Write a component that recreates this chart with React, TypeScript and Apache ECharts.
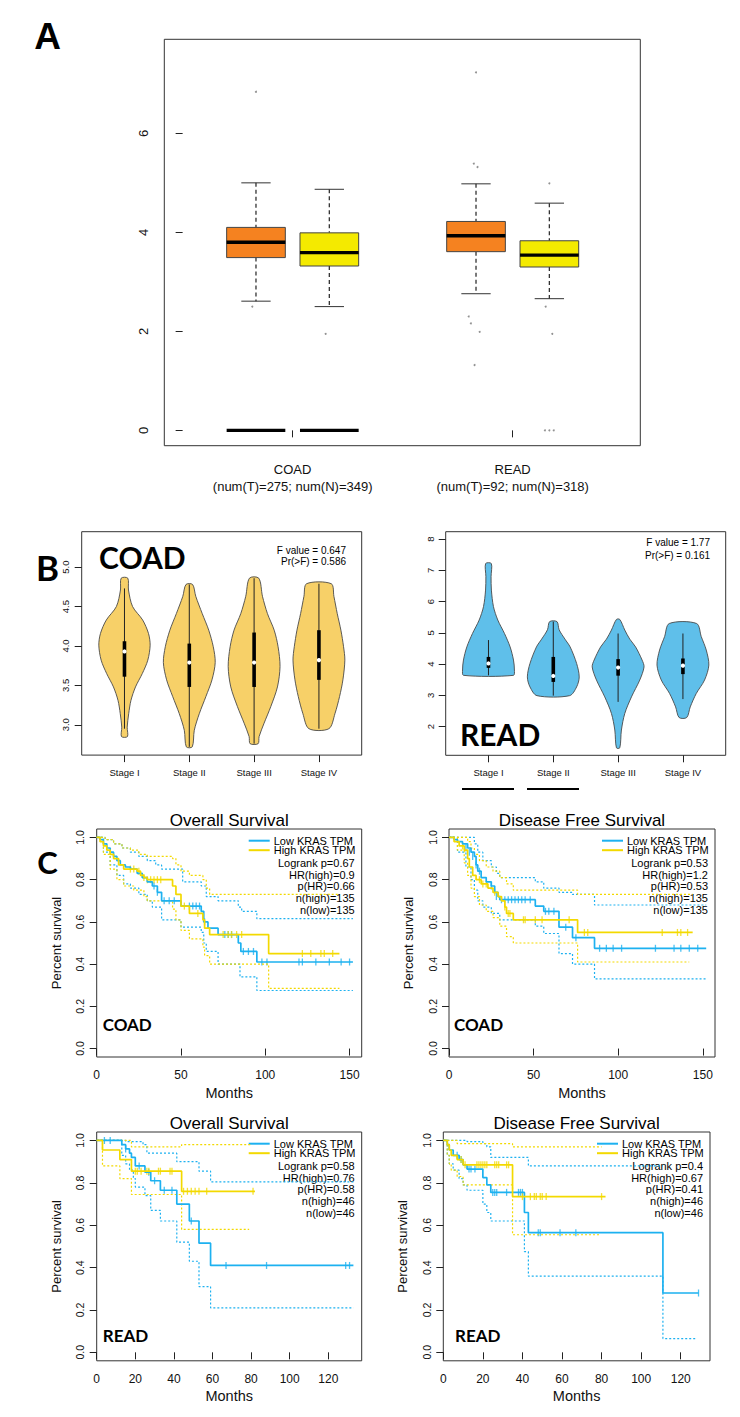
import React, { useEffect, useRef } from 'react';
import * as echarts from 'echarts';

// ---------------- Panel A : expression box plots ----------------
const groupNames = ['COAD', 'READ'];
const groupCounts = ['(num(T)=275; num(N)=349)', '(num(T)=92; num(N)=318)'];
const groupPositions = [1.5, 4.5];
const boxPositions = [1, 2, 4, 5];
const boxTypes = ['Tumor', 'Normal', 'Tumor', 'Normal'];
// [lower whisker, Q1, median, Q3, upper whisker]
const boxStats = [
  [2.61, 3.49, 3.8, 4.1, 5.0],
  [2.5, 3.32, 3.59, 3.99, 4.87],
  [2.76, 3.61, 3.93, 4.22, 4.98],
  [2.66, 3.3, 3.54, 3.83, 4.59],
];
const zeroLevelPositions = [1, 2];
const outlierPoints = [
  [1.0, 6.84], [0.95, 2.5], [1.95, 1.95],
  [4.0, 7.23], [3.97, 5.39], [4.02, 5.32], [3.9, 2.3], [3.93, 2.16], [4.05, 1.99], [3.98, 1.32],
  [5.0, 4.99], [4.95, 2.5], [5.04, 1.95], [4.94, 0], [5.0, 0], [5.06, 0],
];
const panelAYTicks = [0, 2, 4, 6];

// ---------------- Panel B : stage violins ----------------
const stageNames = ['Stage I', 'Stage II', 'Stage III', 'Stage IV'];
const stagePositions = [1, 2, 3, 4];
// violin outline, top to bottom: [value, half width]
const coadViolinProfiles = [
  [[4.86, 0.051], [4.71, 0.062], [4.5, 0.125], [4.33, 0.28], [4.16, 0.37], [4.01, 0.396], [3.82, 0.36], [3.65, 0.275], [3.48, 0.17], [3.31, 0.1], [3.14, 0.065], [2.97, 0.042], [2.85, 0.046]],
  [[4.78, 0.051], [4.63, 0.1], [4.41, 0.2], [4.2, 0.3], [3.99, 0.37], [3.79, 0.4], [3.57, 0.35], [3.36, 0.257], [3.14, 0.154], [2.93, 0.077], [2.72, 0.046]],
  [[4.86, 0.072], [4.63, 0.129], [4.41, 0.206], [4.2, 0.31], [3.99, 0.37], [3.74, 0.4], [3.48, 0.36], [3.23, 0.257], [3.02, 0.154], [2.85, 0.077], [2.76, 0.062]],
  [[4.79, 0.19], [4.63, 0.231], [4.41, 0.283], [4.2, 0.339], [3.99, 0.38], [3.82, 0.4], [3.57, 0.37], [3.36, 0.319], [3.14, 0.247], [2.95, 0.154]],
];
// [whisker low, Q1, median, Q3, whisker high]
const coadViolinBoxes = [
  [2.95, 3.61, 3.93, 4.06, 4.73],
  [2.72, 3.48, 3.79, 4.03, 4.78],
  [2.76, 3.48, 3.79, 4.17, 4.86],
  [2.95, 3.57, 3.82, 4.2, 4.79],
];
const readViolinProfiles = [
  [[7.22, 0.044], [6.8, 0.04], [6.37, 0.045], [5.84, 0.077], [5.41, 0.144], [4.98, 0.247], [4.55, 0.334], [4.13, 0.386], [3.81, 0.4], [3.64, 0.385]],
  [[5.36, 0.057], [5.1, 0.09], [4.8, 0.18], [4.55, 0.26], [4.02, 0.36], [3.59, 0.4], [3.27, 0.36], [2.99, 0.252]],
  [[5.43, 0.026], [5.09, 0.103], [4.8, 0.18], [4.55, 0.27], [4.13, 0.37], [3.91, 0.4], [3.49, 0.334], [2.95, 0.206], [2.42, 0.103], [1.89, 0.051], [1.32, 0.026]],
  [[5.3, 0.211], [4.88, 0.283], [4.45, 0.36], [3.97, 0.4], [3.49, 0.334], [3.06, 0.206], [2.63, 0.113], [2.29, 0.059]],
];
const readViolinBoxes = [
  [3.64, 3.88, 4.02, 4.23, 4.77],
  [2.99, 3.43, 3.62, 4.23, 5.36],
  [2.79, 3.63, 3.89, 4.16, 4.98],
  [2.88, 3.68, 3.95, 4.18, 4.98],
];
const coadAnova = ['F value = 0.647', 'Pr(>F) = 0.586'];
const readAnova = ['F value = 1.77', 'Pr(>F) = 0.161'];
const coadViolinYTicks = [3.0, 3.5, 4.0, 4.5, 5.0];
const readViolinYTicks = [2, 3, 4, 5, 6, 7, 8];

// ---------------- Panel C : Kaplan-Meier curves ([month, survival from that month]) ----------------
const coadOsLow = [[0, 1], [2, 0.99], [4, 0.97], [6, 0.95], [8, 0.93], [10, 0.91], [12, 0.89], [14, 0.87], [17, 0.86], [20, 0.85], [24, 0.83], [27, 0.81], [30, 0.79], [33, 0.77], [36, 0.74], [38.5, 0.7], [50, 0.675], [62, 0.65], [63.5, 0.6], [66, 0.57], [72, 0.54], [84, 0.5], [85.5, 0.46], [95, 0.41], [152, 0.41]];
const coadOsHigh = [[0, 1], [2, 0.98], [4, 0.96], [6, 0.94], [8, 0.92], [10, 0.9], [13, 0.87], [16, 0.85], [24, 0.84], [26, 0.82], [28, 0.81], [30, 0.8], [45, 0.77], [47, 0.73], [50, 0.675], [55, 0.64], [63, 0.61], [64, 0.57], [67, 0.54], [102, 0.45], [144, 0.45]];
const coadOsLowUpper = [[0, 1], [5, 0.99], [10, 0.97], [15, 0.95], [20, 0.93], [25, 0.91], [30, 0.89], [35, 0.87], [38.5, 0.85], [51, 0.79], [62, 0.77], [65, 0.72], [72, 0.7], [84, 0.67], [86, 0.65], [95, 0.615], [152, 0.615]];
const coadOsLowLower = [[0, 1], [4, 0.93], [8, 0.87], [12, 0.82], [16, 0.78], [20, 0.76], [25, 0.73], [30, 0.7], [33, 0.67], [38.5, 0.61], [50, 0.575], [62, 0.55], [63.5, 0.5], [65, 0.46], [72, 0.4], [85, 0.34], [95, 0.275], [152, 0.275]];
const coadOsHighUpper = [[0, 1], [5, 0.99], [10, 0.97], [15, 0.95], [20, 0.94], [25, 0.92], [30, 0.91], [45, 0.9], [47, 0.87], [50, 0.84], [55, 0.82], [63, 0.8], [65, 0.76], [67, 0.73], [144, 0.73]];
const coadOsHighLower = [[0, 1], [4, 0.92], [8, 0.85], [12, 0.8], [16, 0.77], [22, 0.75], [28, 0.72], [30, 0.7], [45, 0.66], [47, 0.61], [50, 0.56], [55, 0.52], [63, 0.48], [64, 0.44], [67, 0.4], [102, 0.285], [144, 0.285]];
const coadOsLowCensor = [[34, 0.77], [36, 0.74], [40, 0.7], [43, 0.7], [46, 0.7], [55, 0.675], [57, 0.675], [59, 0.675], [61, 0.675], [64, 0.6], [76, 0.54], [78, 0.54], [80, 0.54], [87, 0.46], [90, 0.46], [93, 0.46], [98, 0.41], [101, 0.41], [120, 0.41], [122, 0.41], [130, 0.41], [138, 0.41], [145, 0.41], [150, 0.41]];
const coadOsHighCensor = [[20, 0.85], [22, 0.85], [25, 0.84], [28, 0.81], [30, 0.8], [32, 0.8], [34, 0.8], [36, 0.8], [38, 0.8], [52, 0.675], [60, 0.64], [75, 0.54], [78, 0.54], [80, 0.54], [83, 0.54], [86, 0.54], [122, 0.45], [127, 0.45], [133, 0.45], [135, 0.45], [140, 0.45]];

const coadDfsLow = [[0, 1], [3, 0.99], [5, 0.98], [8, 0.97], [11, 0.95], [13, 0.93], [15, 0.91], [16, 0.87], [17, 0.84], [19, 0.81], [22, 0.79], [25, 0.77], [27, 0.74], [29, 0.72], [30, 0.705], [51, 0.675], [56, 0.65], [65, 0.575], [73, 0.525], [86, 0.475], [152, 0.475]];
const coadDfsHigh = [[0, 1], [3, 0.98], [6, 0.96], [9, 0.94], [11, 0.9], [12, 0.86], [14, 0.82], [16, 0.8], [19, 0.78], [23, 0.76], [26, 0.74], [29, 0.72], [31, 0.7], [33, 0.67], [34, 0.64], [38, 0.61], [76, 0.55], [144, 0.55]];
const coadDfsLowUpper = [[0, 1], [13, 1.0], [15, 0.97], [17, 0.93], [20, 0.89], [25, 0.86], [28, 0.83], [30, 0.81], [51, 0.79], [56, 0.76], [65, 0.74], [73, 0.73], [86, 0.68], [152, 0.68]];
const coadDfsLowLower = [[0, 1], [5, 0.93], [10, 0.86], [13, 0.8], [15, 0.75], [17, 0.7], [20, 0.67], [25, 0.64], [30, 0.61], [51, 0.58], [56, 0.545], [65, 0.45], [73, 0.4], [86, 0.33], [152, 0.33]];
const coadDfsHighUpper = [[0, 1], [8, 1.0], [11, 0.98], [13, 0.95], [15, 0.92], [18, 0.89], [22, 0.86], [26, 0.84], [30, 0.81], [34, 0.78], [38, 0.75], [76, 0.73], [144, 0.73]];
const coadDfsHighLower = [[0, 1], [5, 0.94], [9, 0.88], [11, 0.82], [13, 0.76], [15, 0.72], [18, 0.68], [22, 0.65], [26, 0.62], [30, 0.58], [34, 0.53], [38, 0.5], [76, 0.41], [142, 0.41]];
const coadDfsLowCensor = [[10, 0.95], [12, 0.93], [14, 0.91], [16, 0.87], [18, 0.84], [25, 0.77], [28, 0.72], [31, 0.705], [33, 0.705], [35, 0.705], [37, 0.705], [39, 0.705], [41, 0.705], [43, 0.705], [45, 0.705], [48, 0.705], [57, 0.65], [59, 0.65], [62, 0.65], [69, 0.575], [75, 0.525], [89, 0.475], [93, 0.475], [97, 0.475], [102, 0.475], [122, 0.475], [133, 0.475], [137, 0.475], [142, 0.475], [147, 0.475]];
const coadDfsHighCensor = [[8, 0.96], [18, 0.8], [20, 0.78], [22, 0.78], [27, 0.74], [33, 0.67], [35, 0.64], [36, 0.64], [44, 0.61], [45, 0.61], [51, 0.61], [55, 0.61], [71, 0.61], [80, 0.55], [82, 0.55], [126, 0.55], [135, 0.55], [137, 0.55], [141, 0.55]];

const readOsLow = [[0, 1], [13, 0.98], [15, 0.96], [17, 0.94], [18, 0.92], [20, 0.88], [25, 0.85], [28, 0.81], [33, 0.765], [41.5, 0.7], [48, 0.62], [53, 0.515], [59, 0.41], [133, 0.41]];
const readOsHigh = [[0, 1], [3, 0.955], [12, 0.91], [18, 0.855], [44, 0.76], [82, 0.76]];
const readOsLowUpper = [[0, 1], [15, 0.995], [24, 0.98], [26, 0.94], [41.5, 0.9], [53, 0.855], [59, 0.805], [133, 0.805]];
const readOsLowLower = [[0, 1], [13, 0.93], [15, 0.89], [17, 0.86], [19, 0.82], [20, 0.78], [25, 0.74], [28, 0.67], [33, 0.62], [41.5, 0.52], [48, 0.43], [53, 0.31], [59, 0.21], [133, 0.21]];
const readOsHighUpper = [[0, 1], [18, 0.97], [44, 0.98], [80, 0.98]];
const readOsHighLower = [[0, 1], [3, 0.88], [12, 0.82], [18, 0.745], [44, 0.58], [79, 0.58]];
const readOsLowCensor = [[4, 1], [7, 1], [15, 0.96], [22, 0.88], [27, 0.85], [30, 0.81], [35, 0.765], [39, 0.765], [49, 0.62], [67, 0.41], [88, 0.41], [129, 0.41], [131, 0.41]];
const readOsHighCensor = [[20, 0.855], [21, 0.855], [23, 0.855], [26, 0.855], [27, 0.855], [32, 0.855], [33, 0.855], [38, 0.855], [39, 0.855], [45, 0.76], [47, 0.76], [49, 0.76], [51, 0.76], [53, 0.76], [57, 0.76], [81, 0.76]];

const readDfsLow = [[0, 1], [2, 0.98], [3, 0.955], [5, 0.93], [8, 0.91], [10, 0.885], [12, 0.865], [20, 0.825], [22, 0.79], [24, 0.755], [41, 0.66], [43, 0.565], [111, 0.28], [129, 0.28]];
const readDfsHigh = [[0, 1], [2, 0.98], [3, 0.955], [4, 0.93], [7, 0.91], [10, 0.885], [35, 0.735], [82, 0.735]];
const readDfsLowUpper = [[0, 1], [12, 0.995], [20, 0.985], [22, 0.97], [24, 0.92], [43, 0.88], [111, 0.88]];
const readDfsLowLower = [[0, 1], [2, 0.93], [3, 0.89], [5, 0.86], [8, 0.82], [10, 0.79], [12, 0.765], [20, 0.7], [22, 0.66], [24, 0.62], [41, 0.475], [43, 0.36], [111, 0.065], [128, 0.065]];
const readDfsHighUpper = [[0, 1], [7, 0.985], [35, 0.97], [80, 0.97]];
const readDfsHighLower = [[0, 1], [2, 0.93], [3, 0.89], [4, 0.86], [7, 0.83], [10, 0.79], [35, 0.555], [79, 0.555]];
const readDfsLowCensor = [[7, 0.93], [9, 0.91], [13, 0.865], [14, 0.865], [16, 0.865], [25, 0.755], [26, 0.755], [27, 0.755], [32, 0.755], [38, 0.755], [39, 0.755], [40, 0.755], [48, 0.565], [49, 0.565], [59, 0.565], [67, 0.565], [129, 0.28]];
const readDfsHighCensor = [[9, 0.91], [11, 0.885], [17, 0.885], [18, 0.885], [19, 0.885], [20, 0.885], [21, 0.885], [22, 0.885], [26, 0.885], [27, 0.885], [28, 0.885], [32, 0.885], [33, 0.885], [40, 0.735], [44, 0.735], [46, 0.735], [47, 0.735], [49, 0.735], [50, 0.735], [52, 0.735], [80, 0.735]];

const coadOsStats = ['Logrank p=0.67', 'HR(high)=0.9', 'p(HR)=0.66', 'n(high)=135', 'n(low)=135'];
const coadDfsStats = ['Logrank p=0.53', 'HR(high)=1.2', 'p(HR)=0.53', 'n(high)=135', 'n(low)=135'];
const readOsStats = ['Logrank p=0.58', 'HR(high)=0.76', 'p(HR)=0.58', 'n(high)=46', 'n(low)=46'];
const readDfsStats = ['Logrank p=0.4', 'HR(high)=0.67', 'p(HR)=0.41', 'n(high)=46', 'n(low)=46'];
const kmTitles = ['Overall Survival', 'Disease Free Survival', 'Overall Survival', 'Disease Free Survival'];
const kmCohorts = ['COAD', 'COAD', 'READ', 'READ'];
const legendNames = ['Low KRAS TPM', 'High KRAS TPM'];
const survivalTicks = [0, 0.2, 0.4, 0.6, 0.8, 1.0];
const coadMonthTicks = [0, 50, 100, 150];
const readMonthTicks = [0, 20, 40, 60, 80, 100, 120];

// ---------------- styling / layout ----------------
const FONT = '"Liberation Sans", Arial, Helvetica, sans-serif';
const BOLD_FONT = 'Lato, "Open Sans", "Liberation Sans", sans-serif';
const BLUE = '#1DB1F0';
const YELLOW = '#F3D900';
const BOX_COLORS = ['#F58220', '#F4EA00', '#F58220', '#F4EA00'];
const COAD_VIOLIN = '#F7D068';
const READ_VIOLIN = '#5FBFEA';
const FRAME = '#333';

const grids = [
  { left: 164.3, top: 39.3, width: 476, height: 406.4 },
  { left: 81.7, top: 531.7, width: 280, height: 223.4 },
  { left: 445.7, top: 531.7, width: 280, height: 223.6 },
  { left: 96.7, top: 829, width: 265, height: 228 },
  { left: 449, top: 829, width: 266, height: 228 },
  { left: 96.7, top: 1132, width: 265, height: 228.8 },
  { left: 443.3, top: 1132, width: 266.7, height: 228.8 },
];
const kmCohortPos = [[102.7, 1024], [454, 1024], [102.7, 1335], [455, 1335]];

const idxOf = (arr: number[], v: number) => arr.findIndex((a) => Math.abs(a - v) < 1e-6);

function valueAxis(gridIndex: number, min: number, max: number, ticks: number[], fmt: any, label: any, extra: any = {}) {
  return {
    type: 'value',
    gridIndex,
    min,
    max,
    axisLine: { show: false },
    splitLine: { show: false },
    axisTick: { show: true, inside: false, length: 7, customValues: ticks, lineStyle: { color: '#222', width: 1 } },
    axisLabel: { show: true, customValues: ticks, formatter: fmt, color: '#111', fontFamily: FONT, ...label },
    ...extra,
  };
}

function violinRenderer(profiles: number[][][], boxes: number[][], color: string) {
  return (params: any, api: any) => {
    const i = params.dataIndex;
    const pos = api.value(0);
    const prof = profiles[i];
    const right = prof.map(([v, hw]) => api.coord([pos + hw, v]));
    const left = prof.slice().reverse().map(([v, hw]) => api.coord([pos - hw, v]));
    const [lo, q1, med, q3, hi] = boxes[i];
    const top = api.coord([pos, hi]);
    const bot = api.coord([pos, lo]);
    const a = api.coord([pos, q3]);
    const b = api.coord([pos, q1]);
    const m = api.coord([pos, med]);
    return {
      type: 'group',
      children: [
        { type: 'polygon', shape: { points: right.concat(left), smooth: 0.3 }, style: { fill: color, stroke: '#4a4a4a', lineWidth: 0.9 } },
        { type: 'line', shape: { x1: top[0], y1: top[1], x2: bot[0], y2: bot[1] }, style: { stroke: '#222', lineWidth: 1 } },
        { type: 'line', shape: { x1: a[0], y1: a[1], x2: b[0], y2: b[1] }, style: { stroke: '#000', lineWidth: 3.6 } },
        { type: 'circle', shape: { cx: m[0], cy: m[1], r: 2.1 }, style: { fill: '#fff' } },
      ],
    };
  };
}

function boxRenderer(params: any, api: any) {
  const i = params.dataIndex;
  const pos = api.value(0);
  const [lo, q1, med, q3, hi] = boxStats[i];
  const p = (x: number, y: number) => api.coord([x, y]);
  const tl = p(pos - 0.4, q3);
  const br = p(pos + 0.4, q1);
  const wt = p(pos, hi), wb = p(pos, lo), qt = p(pos, q3), qb = p(pos, q1);
  const c1 = p(pos - 0.2, hi), c2 = p(pos + 0.2, hi), c3 = p(pos - 0.2, lo), c4 = p(pos + 0.2, lo);
  const m1 = p(pos - 0.4, med), m2 = p(pos + 0.4, med);
  const dash = { stroke: '#333', lineWidth: 1.3, lineDash: [4, 3] };
  return {
    type: 'group',
    children: [
      { type: 'line', shape: { x1: wt[0], y1: wt[1], x2: qt[0], y2: qt[1] }, style: dash },
      { type: 'line', shape: { x1: qb[0], y1: qb[1], x2: wb[0], y2: wb[1] }, style: dash },
      { type: 'line', shape: { x1: c1[0], y1: c1[1], x2: c2[0], y2: c2[1] }, style: { stroke: '#333', lineWidth: 1 } },
      { type: 'line', shape: { x1: c3[0], y1: c3[1], x2: c4[0], y2: c4[1] }, style: { stroke: '#333', lineWidth: 1 } },
      { type: 'rect', shape: { x: tl[0], y: tl[1], width: br[0] - tl[0], height: br[1] - tl[1] }, style: { fill: BOX_COLORS[i], stroke: '#444', lineWidth: 1 } },
      { type: 'line', shape: { x1: m1[0], y1: m1[1], x2: m2[0], y2: m2[1] }, style: { stroke: '#000', lineWidth: 3.4 } },
    ],
  };
}

function zeroRenderer(params: any, api: any) {
  const pos = api.value(0);
  const y = api.value(1);
  const a = api.coord([pos - 0.4, y]);
  const b = api.coord([pos + 0.4, y]);
  return { type: 'line', shape: { x1: a[0], y1: a[1], x2: b[0], y2: b[1] }, style: { stroke: '#000', lineWidth: 3.4 } };
}

function kmSeries(ax: number, low: number[][], high: number[][], lowU: number[][], lowL: number[][], highU: number[][], highL: number[][], lowC: number[][], highC: number[][]) {
  const base = { xAxisIndex: ax, yAxisIndex: ax, silent: true, animation: false };
  const line = (data: number[][], color: string, dotted: boolean) => ({
    ...base,
    type: 'line',
    step: 'end',
    showSymbol: false,
    symbol: 'none',
    data,
    lineStyle: { color, width: dotted ? 1.2 : 1.7, type: dotted ? [2, 2] : 'solid' },
  });
  const cens = (data: number[][], color: string) => ({
    ...base,
    type: 'scatter',
    symbol: 'rect',
    symbolSize: [1.3, 7],
    itemStyle: { color },
    data,
  });
  return [
    line(lowU, BLUE, true),
    line(lowL, BLUE, true),
    line(highU, YELLOW, true),
    line(highL, YELLOW, true),
    line(low, BLUE, false),
    line(high, YELLOW, false),
    cens(lowC, BLUE),
    cens(highC, YELLOW),
  ];
}

function text(x: number, y: number, t: string, opts: any = {}) {
  return {
    type: 'text',
    x,
    y,
    silent: true,
    style: { text: t, fill: '#000', fontFamily: FONT, fontSize: 11, align: 'left', verticalAlign: 'middle', ...opts },
  };
}

function buildOption() {
  const fmt1 = (v: number) => v.toFixed(1);
  const xAxis = [
    valueAxis(0, -0.25, 6.24, groupPositions, (v: number) => {
      const i = idxOf(groupPositions, v);
      return i < 0 ? '' : groupNames[i] + '\n' + groupCounts[i];
    }, { fontSize: 13, lineHeight: 16.5, margin: 16 }),
    valueAxis(1, 0.34, 4.66, stagePositions, (v: number) => stageNames[idxOf(stagePositions, v)] || '', { fontSize: 9.5, margin: 12 }),
    valueAxis(2, 0.34, 4.66, stagePositions, (v: number) => stageNames[idxOf(stagePositions, v)] || '', { fontSize: 9.5, margin: 12 }),
  ] as any[];
  const kmMax = [157.2, 157.2, 137.3, 134.8];
  const kmTicks = [coadMonthTicks, coadMonthTicks, readMonthTicks, readMonthTicks];
  for (let k = 0; k < 4; k++) {
    xAxis.push(valueAxis(3 + k, 0, kmMax[k], kmTicks[k], (v: number) => String(v), { fontSize: 12, margin: 12 }, {
      name: 'Months', nameLocation: 'middle', nameGap: 28,
      nameTextStyle: { fontSize: 14.5, color: '#111', fontFamily: FONT },
    }));
  }
  const yAxis = [
    valueAxis(0, -0.31, 7.9, panelAYTicks, (v: number) => String(v), { fontSize: 13, rotate: 90, margin: 14 }),
    valueAxis(1, 2.615, 5.45, coadViolinYTicks, fmt1, { fontSize: 9.5, rotate: 90, margin: 11 }),
    valueAxis(2, 1.08, 8.24, readViolinYTicks, (v: number) => String(v), { fontSize: 9.5, rotate: 90, margin: 10 }),
  ] as any[];
  for (let k = 0; k < 4; k++) {
    yAxis.push(valueAxis(3 + k, -0.04, 1.04, survivalTicks, fmt1, { fontSize: 10.5, rotate: 90, margin: 11 }, {
      name: 'Percent survival', nameLocation: 'middle', nameGap: 34, nameRotate: 90,
      nameTextStyle: { fontSize: 13, color: '#111', fontFamily: FONT },
    }));
  }

  const series: any[] = [
    {
      type: 'custom', xAxisIndex: 0, yAxisIndex: 0, silent: true,
      data: zeroLevelPositions.map((p) => [p, 0]),
      encode: { x: 0, y: 1 },
      renderItem: zeroRenderer,
    },
    {
      type: 'custom', xAxisIndex: 0, yAxisIndex: 0, silent: true,
      name: 'box',
      data: boxPositions.map((p, i) => [p, boxStats[i][2], boxTypes[i]]),
      encode: { x: 0, y: 1 },
      renderItem: boxRenderer,
    },
    {
      type: 'scatter', xAxisIndex: 0, yAxisIndex: 0, silent: true,
      symbolSize: 2, itemStyle: { color: '#777' }, data: outlierPoints,
    },
    {
      type: 'custom', xAxisIndex: 1, yAxisIndex: 1, silent: true,
      data: stagePositions.map((p, i) => [p, coadViolinBoxes[i][2]]),
      encode: { x: 0, y: 1 },
      renderItem: violinRenderer(coadViolinProfiles, coadViolinBoxes, COAD_VIOLIN),
    },
    {
      type: 'custom', xAxisIndex: 2, yAxisIndex: 2, silent: true,
      data: stagePositions.map((p, i) => [p, readViolinBoxes[i][2]]),
      encode: { x: 0, y: 1 },
      renderItem: violinRenderer(readViolinProfiles, readViolinBoxes, READ_VIOLIN),
    },
    ...kmSeries(3, coadOsLow, coadOsHigh, coadOsLowUpper, coadOsLowLower, coadOsHighUpper, coadOsHighLower, coadOsLowCensor, coadOsHighCensor),
    ...kmSeries(4, coadDfsLow, coadDfsHigh, coadDfsLowUpper, coadDfsLowLower, coadDfsHighUpper, coadDfsHighLower, coadDfsLowCensor, coadDfsHighCensor),
    ...kmSeries(5, readOsLow, readOsHigh, readOsLowUpper, readOsLowLower, readOsHighUpper, readOsHighLower, readOsLowCensor, readOsHighCensor),
    ...kmSeries(6, readDfsLow, readDfsHigh, readDfsLowUpper, readDfsLowLower, readDfsHighUpper, readDfsHighLower, readDfsLowCensor, readDfsHighCensor),
  ];

  const g: any[] = [
    text(47.5, 36, 'A', { fontFamily: FONT, fontWeight: 'bold', fontSize: 37, align: 'center' }),
    text(47.5, 567, 'B', { fontFamily: BOLD_FONT, fontWeight: 'bold', fontSize: 35, align: 'center' }),
    text(47.5, 862, 'C', { fontFamily: BOLD_FONT, fontWeight: 'bold', fontSize: 31, align: 'center' }),
    text(99, 557, 'COAD', { fontFamily: BOLD_FONT, fontWeight: 'bold', fontSize: 30 }),
    text(460, 734, 'READ', { fontFamily: BOLD_FONT, fontWeight: 'bold', fontSize: 30 }),
    text(346, 550, coadAnova[0], { fontSize: 10, align: 'right' }),
    text(346, 561.7, coadAnova[1], { fontSize: 10, align: 'right' }),
    text(710, 542, readAnova[0], { fontSize: 10, align: 'right' }),
    text(710, 555, readAnova[1], { fontSize: 10, align: 'right' }),
    { type: 'line', silent: true, shape: { x1: 462, y1: 789, x2: 514, y2: 789 }, style: { stroke: '#000', lineWidth: 2 } },
    { type: 'line', silent: true, shape: { x1: 527, y1: 789, x2: 579, y2: 789 }, style: { stroke: '#000', lineWidth: 2 } },
  ];
  const kmStatsList = [coadOsStats, coadDfsStats, readOsStats, readDfsStats];
  for (let k = 0; k < 4; k++) {
    const gr = grids[3 + k];
    const R = gr.left + gr.width;
    const T = gr.top;
    g.push(text(gr.left + gr.width / 2, T - 9, kmTitles[k], { fontSize: 17, align: 'center' }));
    g.push({ type: 'line', silent: true, shape: { x1: R - 113, y1: T + 11.7, x2: R - 92, y2: T + 11.7 }, style: { stroke: BLUE, lineWidth: 2 } });
    g.push({ type: 'line', silent: true, shape: { x1: R - 113, y1: T + 21.2, x2: R - 92, y2: T + 21.2 }, style: { stroke: YELLOW, lineWidth: 2 } });
    g.push(text(R - 88, T + 11.7, legendNames[0], { fontSize: 11 }));
    g.push(text(R - 88, T + 21.2, legendNames[1], { fontSize: 11 }));
    kmStatsList[k].forEach((s, j) => {
      g.push(text(R - 7, T + 33.7 + j * 11.8, s, { fontSize: 11, align: 'right' }));
    });
    g.push(text(kmCohortPos[k][0], kmCohortPos[k][1], kmCohorts[k], { fontFamily: BOLD_FONT, fontWeight: 'bold', fontSize: 17 }));
  }

  return {
    animation: false,
    backgroundColor: '#fff',
    textStyle: { fontFamily: FONT },
    grid: grids.map((gr) => ({ ...gr, show: true, borderColor: FRAME, borderWidth: 1, backgroundColor: 'transparent', containLabel: false })),
    xAxis,
    yAxis,
    series,
    graphic: { elements: g },
  };
}

export default function App() {
  const ref = useRef<HTMLDivElement>(null);
  useEffect(() => {
    const chart = echarts.init(ref.current as HTMLDivElement, undefined, { renderer: 'svg' });
    chart.setOption(buildOption() as any);
    return () => chart.dispose();
  }, []);
  return <div ref={ref} style={{ position: 'absolute', left: 0, top: 0, width: 740, height: 1417, background: '#fff' }} />;
}
